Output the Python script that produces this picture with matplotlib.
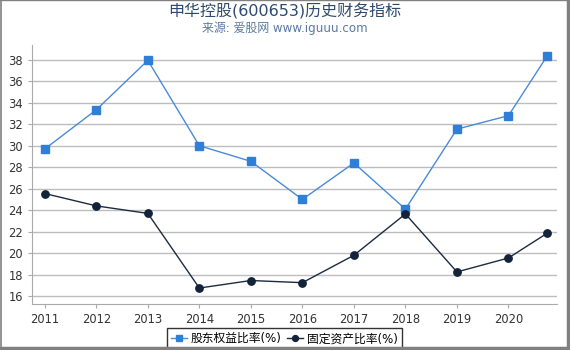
import matplotlib
matplotlib.use("Agg")
import matplotlib.pyplot as plt
from matplotlib.lines import Line2D

plt.rcParams['font.family'] = ['DejaVu Sans', 'Noto Sans CJK SC']

# data
years = ['2011', '2012', '2013', '2014', '2015', '2016', '2017', '2018', '2019', '2020']
x_pos = [0, 1, 2, 3, 4, 5, 6, 7, 8, 9, 9.75]
equity_ratio = [29.7, 33.35, 37.95, 30.0, 28.55, 25.0, 28.4, 24.1, 31.55, 32.8, 38.35]
fixed_asset_ratio = [25.55, 24.4, 23.7, 16.75, 17.45, 17.25, 19.8, 23.65, 18.25, 19.55, 21.85]

fig = plt.figure(figsize=(5.7, 3.5), dpi=100)
ax = fig.add_axes([0.056, 0.131, 0.921, 0.741])

ax.plot(x_pos, equity_ratio, color='#4a8ad8', lw=1, marker='s', ms=5.3,
        mfc='#2f7fd9', mec='#2f7fd9', label='股东权益比率(%)', zorder=3)
ax.plot(x_pos, fixed_asset_ratio, color='#1c2b40', lw=1, marker='o', ms=5.3,
        mfc='#13233a', mec='#13233a', label='固定资产比率(%)', zorder=3)

ax.set_xlim(-0.25, 9.94)
ax.set_ylim(15.25, 39.4)
ax.set_xticks(range(len(years)))
ax.set_xticklabels(years)
ax.set_yticks(range(16, 39, 2))
ax.grid(axis='y', color='#bdbdbd', lw=1)
ax.set_axisbelow(True)
ax.tick_params(axis='both', labelsize=8.3, colors='#333333', length=3, width=0.8)
ax.tick_params(axis='both', color='#aaaaaa')
for s in ['top', 'right']:
    ax.spines[s].set_visible(False)
for s in ['left', 'bottom']:
    ax.spines[s].set_color('#aaaaaa')

leg = ax.legend(loc='upper center', bbox_to_anchor=(0.481, -0.068), ncol=2, fontsize=8.5,
                frameon=True, fancybox=False, edgecolor='black', handlelength=1.35,
                handletextpad=0.3, columnspacing=0.5, borderpad=0.38, markerscale=0.8)
leg.get_frame().set_linewidth(1)

fig.text(0.5, 0.968, '申华控股(600653)历史财务指标', ha='center', va='center',
         fontsize=11.5, color='#2e4a6e')
fig.text(0.5, 0.918, '来源: 爱股网 www.iguuu.com', ha='center', va='center',
         fontsize=8.6, color='#5a7aa3')

# frame round the figure: thin top/left, thicker right/bottom
border = '#808080'
fig.lines.append(Line2D([0, 1], [0.999, 0.999], transform=fig.transFigure, color=border, lw=1))
fig.lines.append(Line2D([0.001, 0.001], [0, 1], transform=fig.transFigure, color=border, lw=1.2))
fig.lines.append(Line2D([0.996, 0.996], [0, 1], transform=fig.transFigure, color=border, lw=2.5))
fig.lines.append(Line2D([0, 1], [0.005, 0.005], transform=fig.transFigure, color=border, lw=2.5))

fig.savefig('out.png', dpi=100)
